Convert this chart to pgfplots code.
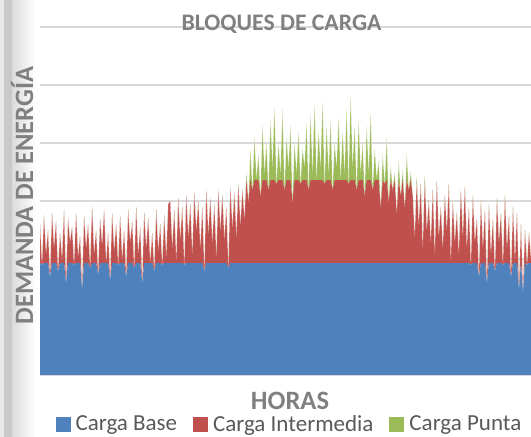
\documentclass[border=0pt]{standalone}
\usepackage{pgfplots}
\pgfplotsset{compat=1.18}
\usepackage{pgfplotstable}
\usepackage{fontspec}
\setmainfont{Carlito}
\definecolor{cBase}{HTML}{4F81BD}
\definecolor{cInter}{HTML}{C0504D}
\definecolor{cPunta}{HTML}{9BBB59}
\definecolor{cGrid}{HTML}{D9D9D9}
\definecolor{cTxt}{HTML}{808080}
\definecolor{cLeg}{HTML}{595959}

\pgfplotstableread{
i L
0 2.6
1 1.9
2 2.75
3 2.1
4 2.5
5 1.7
6 2.8
7 2.2
8 2.65
9 1.8
10 2.45
11 2.0
12 2.85
13 1.6
14 2.7
15 2.3
16 2.55
17 1.9
18 2.8
19 2.05
20 2.4
21 1.5
22 2.75
23 2.2
24 2.6
25 1.85
26 2.9
27 2.1
28 2.5
29 1.75
30 2.7
31 2.25
32 2.85
33 1.95
34 2.45
35 1.65
36 2.8
37 2.15
38 2.6
39 1.9
40 2.75
41 2.0
42 2.5
43 1.7
44 2.85
45 2.3
46 2.65
47 1.85
48 2.9
49 2.1
50 2.55
51 1.6
52 2.8
53 2.2
54 2.7
55 1.95
56 2.45
57 1.8
58 2.85
59 2.15
60 2.6
61 1.9
62 2.75
63 2.05
64 2.95
65 3.0
66 2.2
67 2.85
68 2.0
69 3.05
70 2.35
71 2.9
72 1.9
73 3.1
74 2.4
75 2.95
76 2.1
77 3.15
78 2.5
79 3.0
80 2.2
81 2.9
82 1.8
83 3.2
84 2.45
85 3.05
86 2.3
87 2.95
88 2.05
89 3.2
90 2.5
91 3.1
92 2.35
93 2.9
94 1.85
95 3.25
96 2.55
97 3.15
98 2.4
99 3.3
100 2.6
101 3.2
102 2.7
103 3.5
104 3.0
105 3.9
106 3.2
107 4.1
108 3.4
109 3.8
110 3.1
111 4.3
112 3.5
113 4.0
114 3.2
115 4.4
116 3.6
117 4.62
118 3.3
119 4.0
120 3.5
121 4.58
122 3.2
123 4.1
124 3.6
125 4.3
126 3.0
127 4.0
128 3.5
129 4.2
130 3.3
131 3.9
132 3.6
133 4.35
134 3.2
135 4.5
136 3.5
137 4.67
138 3.4
139 4.2
140 3.6
141 4.72
142 3.3
143 4.3
144 3.5
145 4.4
146 3.2
147 4.0
148 3.6
149 4.45
150 3.4
151 4.2
152 3.5
153 4.6
154 3.3
155 4.83
156 3.6
157 4.3
158 3.2
159 4.4
160 3.5
161 4.0
162 3.1
163 4.3
164 3.5
165 4.53
166 3.2
167 3.9
168 3.4
169 3.7
170 2.9
171 3.8
172 3.3
173 4.09
174 3.0
175 3.6
176 3.2
177 3.5
178 2.8
179 3.7
180 3.1
181 3.55
182 2.9
183 3.8
184 3.2
185 3.5
186 3.1
187 2.4
188 3.4
189 2.6
190 3.3
191 2.2
192 3.45
193 2.5
194 3.0
195 2.3
196 3.2
197 2.1
198 3.35
199 2.4
200 2.9
201 2.2
202 3.1
203 2.5
204 3.3
205 2.0
206 3.0
207 2.3
208 2.8
209 2.1
210 3.2
211 2.4
212 3.25
213 2.2
214 2.9
215 1.9
216 3.1
217 2.3
218 2.7
219 1.7
220 3.0
221 2.2
222 2.85
223 1.6
224 2.95
225 2.1
226 2.7
227 1.8
228 3.05
229 2.3
230 2.8
231 1.9
232 3.1
233 2.2
234 2.75
235 1.7
236 2.9
237 2.0
238 2.8
239 1.5
240 2.6
241 1.45
242 2.5
243 1.9
244 2.45
245 2.0
}\loaddata

\begin{document}
\begin{tikzpicture}
\useasboundingbox (0,0) rectangle (531bp,437bp);
\fill[gray!18] (0,0) rectangle (4bp,437bp);
\fill[gray!42] (4bp,0) rectangle (12bp,437bp);
\shade[left color=gray!28, right color=white] (12bp,0) rectangle (36bp,437bp);
\begin{axis}[
  at={(40bp,62bp)}, anchor=south west,
  scale only axis, width=491bp, height=348bp,
  xmin=0, xmax=245, ymin=0, ymax=6,
  ytick={0,1,...,6}, yticklabels={}, xtick=\empty,
  ymajorgrids, grid style={cGrid, line width=1.3bp},
  axis line style={draw=none}, major tick length=0pt,
  stack plots=y,
  legend columns=3,
  legend style={at={(0.507,-0.141)}, anchor=center, draw=none, fill=none,
    font=\fontsize{23bp}{26bp}\selectfont, text=cLeg,
    nodes={inner sep=1bp},
    /tikz/every odd column/.append style={column sep=4bp},
    /tikz/every even column/.append style={column sep=15bp}},
  legend cell align=left,
]
\addplot[fill=cBase, draw=none,
  legend image code/.code={\fill[cBase] (0bp,-7.5bp) rectangle (15bp,7.5bp);}]
  table[x=i, y expr={min(\thisrow{L},1.931)}]{\loaddata} \closedcycle;
\addlegendentry{Carga Base}
\addplot[fill=cInter, draw=none,
  legend image code/.code={\fill[cInter] (0bp,-7.5bp) rectangle (15bp,7.5bp);}]
  table[x=i, y expr={max(min(\thisrow{L},3.362)-1.931,0)}]{\loaddata} \closedcycle;
\addlegendentry{Carga Intermedia}
\addplot[fill=cPunta, draw=none,
  legend image code/.code={\fill[cPunta] (0bp,-7.5bp) rectangle (15bp,7.5bp);}]
  table[x=i, y expr={max(\thisrow{L}-3.362,0)}]{\loaddata} \closedcycle;
\addlegendentry{Carga Punta}
\end{axis}
\begin{axis}[
  at={(40bp,62bp)}, anchor=south west,
  scale only axis, width=491bp, height=348bp,
  xmin=0, xmax=245, ymin=0, ymax=6, hide axis]
\addplot[white, draw opacity=0.35, line width=0.5bp] table[x=i, y=L]{\loaddata};
\end{axis}
\node[anchor=base, inner sep=0pt, text=cTxt, font=\bfseries\fontsize{23.7bp}{27bp}\selectfont] at (281.5bp,406bp) {BLOQUES DE CARGA};
\node[anchor=base, inner sep=0pt, text=cTxt, font=\bfseries\fontsize{26.5bp}{30bp}\selectfont] at (290bp,28bp) {HORAS};
\node[anchor=base, inner sep=0pt, rotate=90, text=cTxt, font=\bfseries\fontsize{26.5bp}{30bp}\selectfont] at (33bp,241.5bp) {DEMANDA DE ENERGÍA};
\end{tikzpicture}
\end{document}
